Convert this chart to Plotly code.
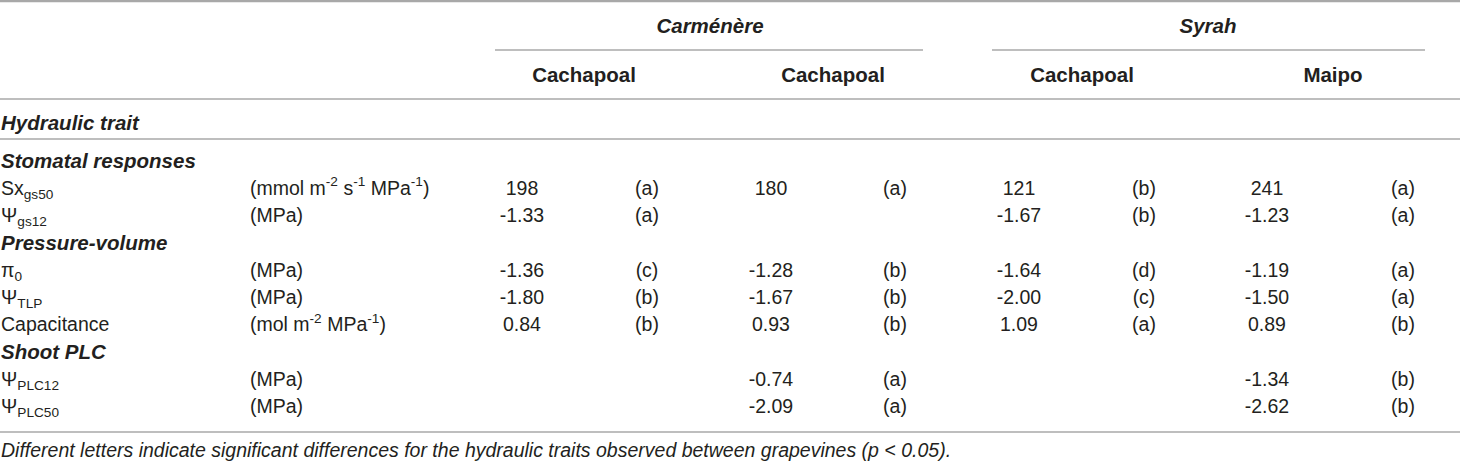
import plotly.graph_objects as go

# table content
cultivars = ["Carménère", "Syrah"]
sites = ["Cachapoal", "Cachapoal", "Cachapoal", "Maipo"]
sections = ["Stomatal responses", "Pressure-volume", "Shoot PLC"]
traits = ["Sx<sub>gs50</sub>", "Ψ<sub>gs12</sub>", "π<sub>0</sub>", "Ψ<sub>TLP</sub>",
          "Capacitance", "Ψ<sub>PLC12</sub>", "Ψ<sub>PLC50</sub>"]
trait_section = [0, 0, 1, 1, 1, 2, 2]
units = ["(mmol m<sup>-2</sup> s<sup>-1</sup> MPa<sup>-1</sup>)", "(MPa)", "(MPa)", "(MPa)",
         "(mol m<sup>-2</sup> MPa<sup>-1</sup>)", "(MPa)", "(MPa)"]

carmenere_cachapoal_a = ["198", "-1.33", "-1.36", "-1.80", "0.84", "", ""]
carmenere_cachapoal_a_sig = ["(a)", "(a)", "(c)", "(b)", "(b)", "", ""]
carmenere_cachapoal_b = ["180", "", "-1.28", "-1.67", "0.93", "-0.74", "-2.09"]
carmenere_cachapoal_b_sig = ["(a)", "", "(b)", "(b)", "(b)", "(a)", "(a)"]
syrah_cachapoal = ["121", "-1.67", "-1.64", "-2.00", "1.09", "", ""]
syrah_cachapoal_sig = ["(b)", "(b)", "(d)", "(c)", "(a)", "", ""]
syrah_maipo = ["241", "-1.23", "-1.19", "-1.50", "0.89", "-1.34", "-2.62"]
syrah_maipo_sig = ["(a)", "(a)", "(a)", "(a)", "(b)", "(b)", "(b)"]

footnote = ("Different letters indicate significant differences for the hydraulic traits "
            "observed between grapevines (p < 0.05).")

value_cols = [carmenere_cachapoal_a, carmenere_cachapoal_b, syrah_cachapoal, syrah_maipo]
sig_cols = [carmenere_cachapoal_a_sig, carmenere_cachapoal_b_sig, syrah_cachapoal_sig, syrah_maipo_sig]

# layout (pixel space)
W, H = 1460, 464
val_x = [522, 771, 1019, 1267]
sig_x = [647, 895, 1144, 1403]
site_x = [584, 833, 1082, 1333]
cult_x = [710, 1208]
unit_x = 252
row0, row_step = 162.5, 27.3
txt = "#231f20"
rule = "#a8a8a8"
fnt = "Liberation Sans"
fs = 19.5
fs_b = 20.5

# build row order: section header followed by its traits
rows = []
for s_i, sec in enumerate(sections):
    rows.append(("sec", sec))
    for t_i, ts in enumerate(trait_section):
        if ts == s_i:
            rows.append(("trait", t_i))

fig = go.Figure()


def add_text(xs, ys, texts, pos="middle center", size=fs):
    fig.add_trace(go.Scatter(x=xs, y=ys, text=texts, mode="text", textposition=pos,
                             textfont=dict(family=fnt, size=size, color=txt),
                             hoverinfo="skip", showlegend=False, cliponaxis=False))


# headers
add_text(cult_x, [27.5, 27.5], [f"<b><i>{c}</i></b>" for c in cultivars], size=fs_b)
add_text(site_x, [76.5] * 4, [f"<b>{s}</b>" for s in sites], size=fs_b)
add_text([1], [125], ["<b><i>Hydraulic trait</i></b>"], pos="middle right", size=fs_b)

sec_x, sec_y, sec_t = [], [], []
lab_x, lab_y, lab_t = [], [], []
unit_xs, unit_ys, unit_t = [], [], []
vx, vy, vt = [], [], []
for i, (kind, item) in enumerate(rows):
    y = row0 + i * row_step
    if kind == "sec":
        sec_x.append(1); sec_y.append(y); sec_t.append(f"<b><i>{item}</i></b>")
        continue
    lab_x.append(1); lab_y.append(y); lab_t.append(traits[item])
    unit_xs.append(unit_x - 2); unit_ys.append(y); unit_t.append(units[item])
    for c in range(4):
        if value_cols[c][item]:
            vx.append(val_x[c]); vy.append(y); vt.append(value_cols[c][item])
        if sig_cols[c][item]:
            vx.append(sig_x[c]); vy.append(y); vt.append(sig_cols[c][item])

add_text(sec_x, sec_y, sec_t, pos="middle right", size=fs_b)
add_text(lab_x, lab_y, lab_t, pos="middle right")
add_text(unit_xs, unit_ys, unit_t, pos="middle right")
add_text(vx, vy, vt)
add_text([1], [452], [f"<i>{footnote}</i>"], pos="middle right", size=19.5)

# rules
line_specs = [(0, W, 1, 2.5), (495, 923, 50, 1.3), (992, 1425, 50, 1.3),
              (0, W, 99, 1.3), (0, W, 139, 1.3), (0, W, 432, 1.3)]
for x0, x1, y, w in line_specs:
    fig.add_shape(type="line", x0=x0, x1=x1, y0=y, y1=y, xref="x", yref="y",
                  line=dict(color=rule, width=w))

fig.update_layout(
    width=W, height=H, margin=dict(l=0, r=0, t=0, b=0),
    paper_bgcolor="white", plot_bgcolor="white",
    xaxis=dict(range=[0, W], visible=False, fixedrange=True),
    yaxis=dict(range=[H, 0], visible=False, fixedrange=True),
)

fig.write_html("out.html", config={"displayModeBar": False},
               post_script="document.body.style.margin='0';document.body.style.overflow='hidden';")
